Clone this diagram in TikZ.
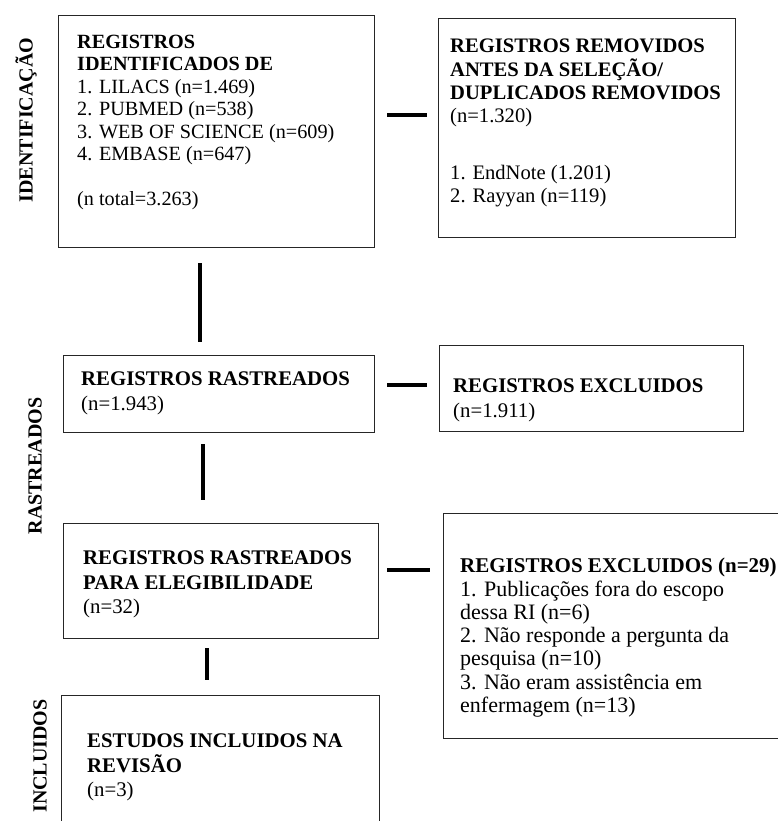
\documentclass[tikz,border=0pt]{standalone}
\usepackage{fontspec}
\setmainfont{Liberation Serif}
\begin{document}
\begin{tikzpicture}[x=1pt,y=-1pt,
  box/.style={draw=black!85, line width=1.2pt, anchor=north west, inner sep=0pt, fill=none},
  txt/.style={anchor=north west, align=left, inner sep=0pt, text=black},
  conn/.style={line width=4.5pt, black},
  side/.style={rotate=90, font=\fontsize{20}{22}\selectfont\bfseries, inner sep=0pt, text=black}]
\useasboundingbox (0,0) rectangle (777,821);
\fill[white] (0,0) rectangle (777,821);
% boxes
\node[box, minimum width=316pt, minimum height=232pt] (b1) at (58,15) {};
\node[box, minimum width=297pt, minimum height=219pt] (b2) at (438,18) {};
\node[box, minimum width=311pt, minimum height=77pt] (b3) at (63,355) {};
\node[box, minimum width=304pt, minimum height=86pt] (b4) at (439,345) {};
\node[box, minimum width=315pt, minimum height=115pt] (b5) at (63,523) {};
\node[box, minimum width=350pt, minimum height=225pt] (b6) at (443,513) {};
\node[box, minimum width=318pt, minimum height=140pt] (b7) at (61,695) {};
% texts
\node[txt, font=\fontsize{20.2}{22.4}\selectfont] (t1) at (77,35) {%
\textbf{REGISTROS}\\ \textbf{IDENTIFICADOS DE}\\ 1. LILACS (n=1.469)\\ 2. PUBMED (n=538)\\ 3. WEB OF SCIENCE (n=609)\\ 4. EMBASE (n=647)\\[22.6pt] (n total=3.263)};
\node[txt, font=\fontsize{20.6}{23.3}\selectfont] (t2) at (450,39) {%
\textbf{REGISTROS REMOVIDOS}\\ \textbf{ANTES DA SELEÇÃO/}\\ \textbf{DUPLICADOS REMOVIDOS}\\ (n=1.320)\\[33pt] 1. EndNote (1.201)\\ 2. Rayyan (n=119)};
\node[txt, font=\fontsize{20.8}{24.5}\selectfont] (t3) at (81,372) {%
\textbf{REGISTROS RASTREADOS}\\ (n=1.943)};
\node[txt, font=\fontsize{20.8}{24.5}\selectfont] (t4) at (453,379) {%
\textbf{REGISTROS EXCLUIDOS}\\ (n=1.911)};
\node[txt, font=\fontsize{20.8}{24.5}\selectfont] (t5) at (83,551) {%
\textbf{REGISTROS RASTREADOS}\\ \textbf{PARA ELEGIBILIDADE}\\ (n=32)};
\node[txt, font=\fontsize{22}{23.3}\selectfont] (t6) at (460,558) {%
{\fontsize{21}{23.3}\selectfont\textbf{REGISTROS EXCLUIDOS (n=29)}}\\ 1. Publicações fora do escopo\\ dessa RI (n=6)\\ 2. Não responde a pergunta da\\ pesquisa (n=10)\\ 3. Não eram assistência em\\ enfermagem (n=13)};
\node[txt, font=\fontsize{20.8}{24.5}\selectfont] (t7) at (87,734) {%
\textbf{ESTUDOS INCLUIDOS NA}\\ \textbf{REVISÃO}\\ (n=3)};
% side labels
\node[side] (s1) at (26,120) {IDENTIFICAÇÃO};
\node[side] (s2) at (35,466) {RASTREADOS};
\node[side] (s3) at (40,756) {INCLUIDOS};
% connectors
\coordinate (h1a) at (387,115); \coordinate (h1b) at (427,115);
\coordinate (v1a) at (200,263); \coordinate (v1b) at (200,342);
\coordinate (h2a) at (387,385); \coordinate (h2b) at (427,385);
\coordinate (v2a) at (203,444); \coordinate (v2b) at (203,500);
\coordinate (h3a) at (387,570); \coordinate (h3b) at (430,570);
\coordinate (v3a) at (207,648); \coordinate (v3b) at (207,680);
\draw[conn] (h1a) -- (h1b);
\draw[conn] (v1a) -- (v1b);
\draw[conn] (h2a) -- (h2b);
\draw[conn] (v2a) -- (v2b);
\draw[conn] (h3a) -- (h3b);
\draw[conn] (v3a) -- (v3b);
\end{tikzpicture}
\end{document}
